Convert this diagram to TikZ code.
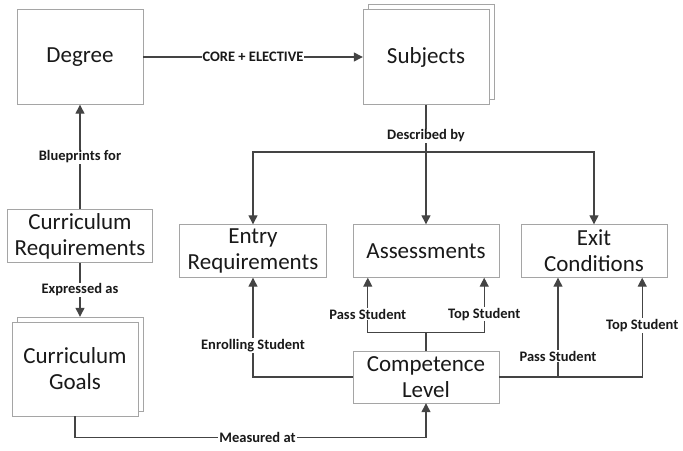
\documentclass[tikz,border=0pt]{standalone}
\usepackage{fontspec}
\setmainfont{Carlito}
\usetikzlibrary{arrows.meta,shadows}
\definecolor{boxline}{RGB}{165,165,165}
\definecolor{conline}{RGB}{68,68,68}
\definecolor{txt}{RGB}{25,25,25}

\tikzset{
  block/.style={draw=boxline, fill=white, text=txt, align=center, inner sep=0pt,
    font=\fontsize{23}{26}\selectfont},
  stack/.style={block, copy shadow={shadow xshift=5pt, shadow yshift=5pt, draw=boxline, fill=white}},
  plain/.style={draw=conline, line width=1.3pt},
  link/.style={plain, -{Triangle[length=9pt,width=9pt]}},
  lbl/.style={fill=white, text=txt, inner sep=1pt, font=\fontsize{14.5}{16}\bfseries\selectfont},
}

\begin{document}
\begin{tikzpicture}[x=1pt,y=-1pt]
  \useasboundingbox (0,0) rectangle (683,450);

  % boxes
  \node[block, minimum width=126pt, minimum height=95pt] (degree) at (80,57) {Degree};
  \node[stack, minimum width=126pt, minimum height=95pt] (subjects) at (426,57) {Subjects};
  \node[block, minimum width=145pt, minimum height=53pt] (currreq) at (80,236) {Curriculum\\Requirements};
  \node[stack, minimum width=126pt, minimum height=94pt] (currgoals) at (75,369) {Curriculum\\Goals};
  \node[block, minimum width=147pt, minimum height=53pt] (entry) at (253,251) {Entry\\Requirements};
  \node[block, minimum width=146pt, minimum height=53pt] (assess) at (426,251) {Assessments};
  \node[block, minimum width=146pt, minimum height=53pt] (exitc) at (594,251) {Exit\\Conditions};
  \node[block, minimum width=146pt, minimum height=52pt] (competence) at (426,377) {Competence\\Level};

  % helper points
  \coordinate (goaltop) at ([yshift=5pt]currgoals.north);
  \coordinate (split) at (426,152);
  \coordinate (cjoin) at ([yshift=18pt]competence.north);
  \coordinate (epass) at (558,377);
  \coordinate (mlow) at ([yshift=-21pt]currgoals.south);

  % left column
  \draw[link] (degree) -- node[lbl]{CORE + ELECTIVE} (subjects);
  \draw[link] (currreq) -- node[lbl]{Blueprints for} (degree);
  \draw[link] (currreq) -- node[lbl]{Expressed as} (goaltop -| currreq);
  \draw[link] (currgoals.south) -- (mlow) -| node[lbl, pos=0.26]{Measured at} (competence.south);

  % subjects fan out
  \draw[link] (subjects) -- node[lbl, pos=0.26]{Described by} (assess);
  \draw[link] (split) -| (entry);
  \draw[link] (split) -| (exitc);

  % competence level
  \draw[plain] (competence) -- (cjoin);
  \draw[link] (cjoin) -| node[lbl, pos=0.67]{Pass Student} ([xshift=15pt]assess.south west);
  \draw[link] (cjoin) -| node[lbl, pos=0.67]{Top Student} ([xshift=-15pt]assess.south east);
  \draw[link] (competence) -| node[lbl, pos=0.66]{Enrolling Student} (entry);
  \draw[link] (competence) -| node[lbl, pos=0.76]{Top Student} ([xshift=-25pt]exitc.south east);
  \draw[link] (epass) -- node[lbl, pos=0.21]{Pass Student} (epass |- exitc.south);

\end{tikzpicture}
\end{document}
